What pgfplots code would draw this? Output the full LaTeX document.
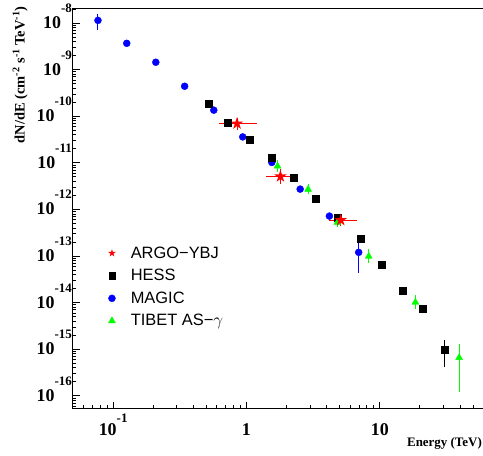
\documentclass[border=0pt]{standalone}
\usepackage{pgfplots}
\pgfplotsset{compat=1.18}
\usepackage{pgfplotstable}
\usepackage{fontspec}
\setmainfont{Liberation Serif}
\newfontfamily\lsans{Liberation Sans}

\pgfdeclareplotmark{fstar}{%
  \pgfpathmoveto{\pgfpointpolar{90}{\pgfplotmarksize}}%
  \pgfpathlineto{\pgfpointpolar{126}{0.382\pgfplotmarksize}}%
  \pgfpathlineto{\pgfpointpolar{162}{\pgfplotmarksize}}%
  \pgfpathlineto{\pgfpointpolar{198}{0.382\pgfplotmarksize}}%
  \pgfpathlineto{\pgfpointpolar{234}{\pgfplotmarksize}}%
  \pgfpathlineto{\pgfpointpolar{270}{0.382\pgfplotmarksize}}%
  \pgfpathlineto{\pgfpointpolar{306}{\pgfplotmarksize}}%
  \pgfpathlineto{\pgfpointpolar{342}{0.382\pgfplotmarksize}}%
  \pgfpathlineto{\pgfpointpolar{18}{\pgfplotmarksize}}%
  \pgfpathlineto{\pgfpointpolar{54}{0.382\pgfplotmarksize}}%
  \pgfpathclose
  \pgfusepathqfill}

\definecolor{mgreen}{RGB}{0,255,0}

\pgfplotstableread{
x y yp ym
0.077 1.14e-8 4.5e-9 4.2e-9
0.1265 3.67e-9 2e-10 2e-10
0.209 1.44e-9 8e-11 8e-11
0.344 4.4e-10 3e-11 3e-11
0.569 1.35e-10 0 0
0.938 3.6e-11 0 0
1.55 1.02e-11 0 0
2.53 2.73e-12 0 0
4.19 7.2e-13 0 0
6.95 1.2e-13 7e-14 7.7e-14
}\magic

\pgfplotstableread{
x y yp ym
0.519 1.87e-10 0 0
0.728 7.3e-11 0 0
1.053 3.2e-11 0 0
1.55 1.26e-11 0 0
2.25 4.7e-12 0 0
3.29 1.73e-12 0 0
4.84 6.76e-13 0 0
7.17 2.3e-13 0 0
10.4 6.65e-14 0 0
14.8 1.81e-14 0 0
20.9 7.45e-15 1.6e-15 1.3e-15
30.6 1.0e-15 5.5e-16 5.8e-16
}\hess

\pgfplotstableread{
x y yp ym
1.71 8.5e-12 2.9e-12 2.2e-12
2.90 2.7e-12 7.6e-13 5.9e-13
4.81 5.28e-13 1.5e-13 1.16e-13
8.27 9.9e-14 4.0e-14 2.9e-14
18.5 1.02e-14 4.1e-15 3.0e-15
39.4 6.6e-16 6.3e-16 5.4e-16
}\tibet

\pgfplotstableread{
x y xp xm yp ym
0.85 6.98e-11 0.36 0.227 2.4e-11 1.8e-11
1.80 5.1e-12 0.60 0.40 2.1e-12 1.5e-12
5.1 5.9e-13 1.66 0.96 2.0e-13 1.5e-13
}\argo

\newcommand{\tl}[1]{\bfseries\fontsize{18}{18}\selectfont 10\raisebox{16bp}{\fontsize{13}{13}\selectfont #1}}
\newcommand{\xl}[1]{\bfseries\fontsize{18}{18}\selectfont 10\raisebox{13bp}{\fontsize{13}{13}\selectfont #1}}

\begin{document}
\begin{tikzpicture}
\path[use as bounding box] (-73bp,-47.3bp) rectangle (410bp,408.7bp);
\begin{axis}[
  scale only axis, width=410bp, height=400.4bp,
  anchor=south west, at={(0,0)},
  xmode=log, ymode=log,
  xmin=0.05, xmax=59.5, ymin=5.3e-17, ymax=2.07e-8,
  axis x line*=bottom, axis y line*=left,
  axis line style={-, line width=1bp},
  tick align=inside, major tick length=7bp, minor tick length=3.5bp,
  tick style={line width=0.8bp, black},
  xtick={0.1,1,10},
  xticklabels={\xl{-1},{\bfseries\fontsize{18}{18}\selectfont 1},{\bfseries\fontsize{18}{18}\selectfont 10}},
  minor xtick={0.06,0.07,0.08,0.09,0.2,0.3,0.4,0.5,0.6,0.7,0.8,0.9,2,3,4,5,6,7,8,9,20,30,40,50},
  xticklabel style={anchor=base, inner sep=0pt, yshift=-26.5bp},
  ytick={1e-16,1e-15,1e-14,1e-13,1e-12,1e-11,1e-10,1e-9,1e-8},
  yticklabels={\tl{-16},\tl{-15},\tl{-14},\tl{-13},\tl{-12},\tl{-11},\tl{-10},\tl{-9},\tl{-8}},
  minor ytick={6e-17,7e-17,8e-17,9e-17,
    2e-16,3e-16,4e-16,5e-16,6e-16,7e-16,8e-16,9e-16,
    2e-15,3e-15,4e-15,5e-15,6e-15,7e-15,8e-15,9e-15,
    2e-14,3e-14,4e-14,5e-14,6e-14,7e-14,8e-14,9e-14,
    2e-13,3e-13,4e-13,5e-13,6e-13,7e-13,8e-13,9e-13,
    2e-12,3e-12,4e-12,5e-12,6e-12,7e-12,8e-12,9e-12,
    2e-11,3e-11,4e-11,5e-11,6e-11,7e-11,8e-11,9e-11,
    2e-10,3e-10,4e-10,5e-10,6e-10,7e-10,8e-10,9e-10,
    2e-9,3e-9,4e-9,5e-9,6e-9,7e-9,8e-9,9e-9,2e-8},
  yticklabel style={anchor=base east, inner sep=0pt, xshift=-1bp, yshift=-5.5bp},
  xlabel={\bfseries\fontsize{13}{13}\selectfont Energy (TeV)},
  xlabel style={at={(axis description cs:0.9976,-0.0932)}, anchor=base east, inner sep=0pt},
  ylabel={\bfseries\fontsize{14.5}{14.5}\selectfont dN/dE (cm\textsuperscript{-2} s\textsuperscript{-1} TeV\textsuperscript{-1})},
  ylabel style={at={(axis description cs:-0.11,1.005)}, anchor=south east, inner sep=0pt},
  legend style={draw=none, fill=none, at={(axis description cs:0.078,0.415)}, anchor=north west,
    font=\lsans\fontsize{16.5}{16.5}\selectfont, row sep=5.6bp,
    /tikz/every odd column/.append style={column sep=13bp}},
  legend cell align=left,
  error bars/error mark=none,
  clip=false,
]
\addlegendimage{only marks, mark=fstar, red, mark size=4bp}
\addlegendentry{ARGO−YBJ}
\addlegendimage{only marks, mark=square*, black, mark size=3.2bp}
\addlegendentry{HESS}
\addlegendimage{only marks, mark=*, blue, mark size=3.5bp}
\addlegendentry{MAGIC}
\addlegendimage{only marks, mark=triangle*, mgreen, mark size=4bp}
\addlegendentry{TIBET AS−$\gamma$}

\draw[line width=1bp] (rel axis cs:0,1) -- (rel axis cs:1,1);

\addplot[only marks, mark=*, blue, mark size=3.5bp,
  error bars/.cd, y dir=both, y explicit, error bar style={line width=1bp, blue}]
  table[x=x, y=y, y error plus=yp, y error minus=ym] {\magic};
\addplot[only marks, mark=square*, black, mark size=3.5bp,
  error bars/.cd, y dir=both, y explicit, error bar style={line width=1bp, black}]
  table[x=x, y=y, y error plus=yp, y error minus=ym] {\hess};
\addplot[only marks, mark=triangle*, mgreen, mark size=4bp,
  error bars/.cd, y dir=both, y explicit, error bar style={line width=1bp, mgreen}]
  table[x=x, y=y, y error plus=yp, y error minus=ym] {\tibet};
\addplot[only marks, mark=fstar, red, mark size=6.5bp,
  error bars/.cd, y dir=both, y explicit, x dir=both, x explicit, error bar style={line width=1bp, red}]
  table[x=x, y=y, x error plus=xp, x error minus=xm, y error plus=yp, y error minus=ym] {\argo};
\end{axis}
\end{tikzpicture}
\end{document}
